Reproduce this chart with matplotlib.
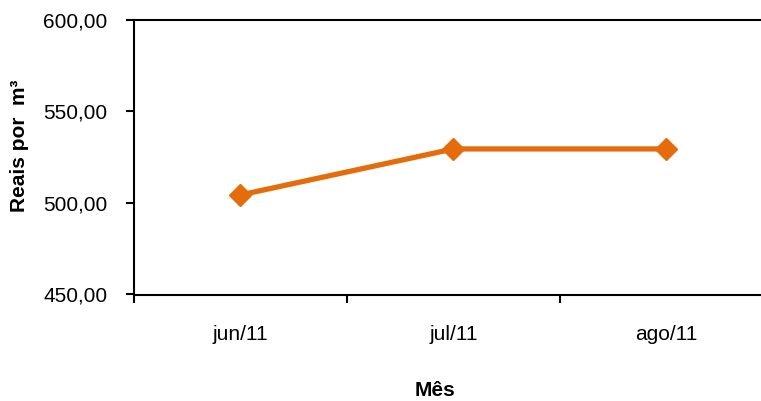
import matplotlib.pyplot as plt
from matplotlib.ticker import FuncFormatter

meses = ['jun/11', 'jul/11', 'ago/11']
precos = [504.3, 529.4, 529.4]

plt.rcParams['font.family'] = ['Liberation Sans', 'DejaVu Sans']

fig = plt.figure(figsize=(7.61, 4.01), dpi=100)
ax = fig.add_axes([134 / 761, 106.5 / 401, 639 / 761, 275 / 401])

x = list(range(len(meses)))
ax.plot(x, precos, color='#E46C0A', linewidth=3.8, marker='D', markersize=11,
        clip_on=False)

ax.set_xlim(-0.5, 2.5)
ax.set_ylim(450, 600)
ax.set_yticks([450, 500, 550, 600])
ax.yaxis.set_major_formatter(FuncFormatter(lambda v, p: f'{v:.2f}'.replace('.', ',')))
ax.set_xticks([-0.5, 0.5, 1.5, 2.5])
ax.set_xticklabels([])
ax.set_xticks(x, minor=True)
ax.set_xticklabels(meses, minor=True)
ax.tick_params(axis='x', which='minor', length=0, labelsize=15, pad=22)
ax.tick_params(axis='x', which='major', length=6, width=1.5, direction='out')
ax.tick_params(axis='y', length=6, width=1.5, labelsize=15, pad=13)

for s in ax.spines.values():
    s.set_linewidth(1.5)

ax.set_ylabel('Reais por  m³', fontsize=15, fontweight='bold')
ax.yaxis.set_label_coords(-(134 - 29) / 639, 0.54)
fig.text(435 / 761, 1 - 391 / 401, 'Mês', fontsize=15, fontweight='bold',
         ha='center', va='center')

fig.savefig('out.png', dpi=100)
